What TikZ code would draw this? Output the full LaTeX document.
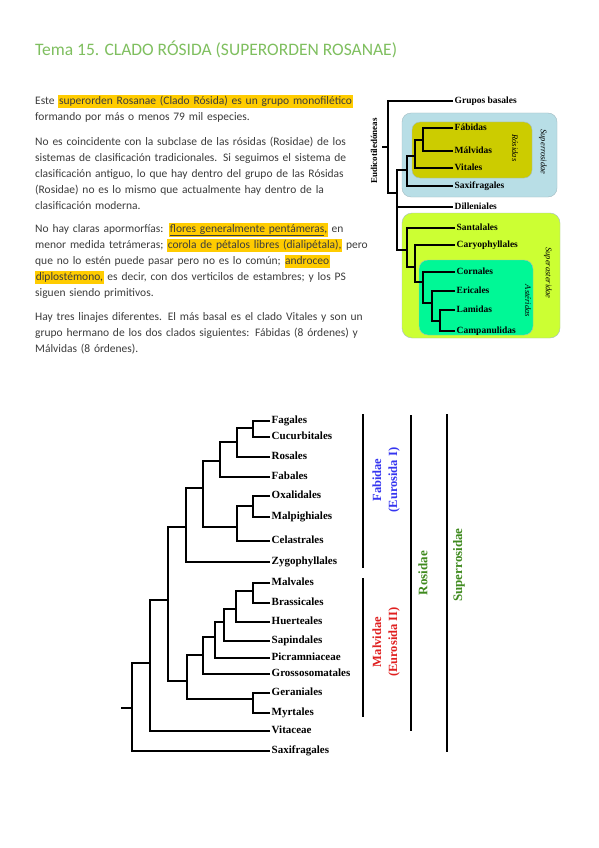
\documentclass[tikz,border=0pt]{standalone}
\usepackage{fontspec}
\setmainfont{Carlito}
\newfontfamily\treefont{Liberation Serif}
\usetikzlibrary{positioning}
\definecolor{rstitle}{HTML}{7FBF5F}
\definecolor{rsink}{HTML}{3C3C3C}
\definecolor{rsmark}{HTML}{FFCC00}
\definecolor{rsblue}{HTML}{B8DEE6}
\definecolor{rsedge}{HTML}{A2BBC2}
\definecolor{rsolive}{HTML}{CCCC00}
\definecolor{rslime}{HTML}{CCFF33}
\definecolor{rsmint}{HTML}{00F896}
\definecolor{rsfab}{HTML}{3535F0}
\definecolor{rsmal}{HTML}{E01F1F}
\definecolor{rsgreen}{HTML}{3F8A1E}
\newcommand{\hlt}[1]{{\setlength{\fboxsep}{0.6pt}\colorbox{rsmark}{\rule[-2.8pt]{0pt}{11.4pt}#1}}}
\newcommand{\jl}[1]{\noindent\makebox[323pt][s]{\rule{0pt}{11pt}#1}\par}
\newcommand{\el}[1]{\noindent\rule{0pt}{11pt}#1\par}

\begin{document}
\begin{tikzpicture}[x=1pt,y=-1pt,
    para/.style={anchor=north west,inner sep=0pt,text width=323pt,align=left,
      text=rsink,font=\fontsize{11.5}{16}\selectfont},
    leaf/.style={anchor=west,inner sep=1.5pt,text height=1.5ex,text depth=0.25ex,
      font=\treefont\bfseries\fontsize{11}{12}\selectfont},
    sleaf/.style={anchor=west,inner sep=1.5pt,text height=1.5ex,text depth=0.25ex,
      font=\treefont\bfseries\fontsize{9.5}{11}\selectfont},
    boxtag/.style={rotate=-90,inner sep=0pt,font=\treefont\itshape\fontsize{8.5}{10}\selectfont},
    cladetag/.style={rotate=90,inner sep=0pt,align=center,font=\treefont\bfseries\fontsize{12.5}{16}\selectfont},
    brlight/.style={line width=1.1pt},
    brheavy/.style={line width=2.2pt},
    sbr/.style={line width=1.3pt},
    bar/.style={line width=1.8pt}]
  \fill[white] (0,0) rectangle (599,848);
  \useasboundingbox (0,0) rectangle (599,848);

  % title and text
  \node[anchor=base west,inner sep=0pt,text=rstitle,font=\fontsize{17.5}{20}\selectfont] (title) at (35,56)
    {Tema 15. CLADO RÓSIDA (SUPERORDEN ROSANAE)};
  \node[para] (p1) at (35,93) {%
    \jl{Este \hlt{superorden Rosanae (Clado Rósida) es un grupo monofilético}}
    \el{formando por más o menos 79 mil especies.}};
  \node[para] (p2) at (35,134) {%
    \jl{No es coincidente con la subclase de las rósidas (Rosidae) de los}
    \jl{sistemas de clasificación tradicionales. Si seguimos el sistema de}
    \jl{clasificación antiguo, lo que hay dentro del grupo de las Rósidas}
    \jl{(Rosidae) no es lo mismo que actualmente hay dentro de la}
    \el{clasificación moderna.}};
  \node[para] (p3) at (35,221) {%
    \jl{No hay claras apormorfías: \hlt{\underline{flores generalmente pentámeras},} en}
    \jl{menor medida tetrámeras; \hlt{corola de pétalos libres (dialipétala),} pero}
    \jl{que no lo estén puede pasar pero no es lo común; \hlt{androceo}}
    \jl{\hlt{diplostémono,} es decir, con dos verticilos de estambres; y los PS}
    \el{siguen siendo primitivos.}};
  \node[para] (p4) at (35,309) {%
    \jl{Hay tres linajes diferentes. El más basal es el clado Vitales y son un}
    \jl{grupo hermano de los dos clados siguientes: Fábidas (8 órdenes) y}
    \el{Málvidas (8 órdenes).}};

  % small tree: boxes
  \draw[rsedge,fill=rsblue,rounded corners=9pt] (402,113) rectangle (557,197);
  \draw[rsedge,fill=rsolive,rounded corners=8pt] (412,122) rectangle (532,178);
  \draw[rsedge,fill=rslime,rounded corners=10pt] (402,213) rectangle (560,338);
  \draw[rsedge,fill=rsmint,rounded corners=9pt] (419,260) rectangle (533,335);
  \node[boxtag] (tsros) at (543,152) {Superrosidae};
  \node[boxtag] (tros) at (515,148) {Rósidas};
  \node[boxtag] (tsast) at (548,273) {Superasteridae};
  \node[boxtag] (tast) at (528,301) {Astéridas};
  \node[rotate=90,inner sep=0pt,font=\treefont\bfseries\fontsize{9}{11}\selectfont] (teud) at (374,151) {Eudicotiledóneas};

  % small tree: leaves
  \node[sleaf] (gb) at (453,101) {Grupos basales};
  \node[sleaf] (fabi) at (453,128) {Fábidas};
  \node[sleaf] (malv) at (453,151) {Málvidas};
  \node[sleaf] (vita) at (453,168) {Vitales};
  \node[sleaf] (saxs) at (453,186) {Saxifragales};
  \node[sleaf] (dill) at (453,207) {Dilleniales};
  \node[sleaf] (sant) at (455,228) {Santalales};
  \node[sleaf] (cary) at (455,245) {Caryophyllales};
  \node[sleaf] (corn) at (455,272) {Cornales};
  \node[sleaf] (eric) at (455,291) {Ericales};
  \node[sleaf] (lami) at (455,310) {Lamidas};
  \node[sleaf] (camp) at (455,331) {Campanulidas};

  % small tree: branch points
  \coordinate (sfm) at (423,140);
  \coordinate (srv) at (415,156);
  \coordinate (srs) at (407,170);
  \coordinate (slc) at (440,321);
  \coordinate (ser) at (432,303);
  \coordinate (sas) at (423,282);
  \coordinate (sca) at (415,267);
  \coordinate (ssa) at (407,250);
  \coordinate (score) at (397,193);
  \coordinate (sroot) at (388,147);
  \coordinate (stick) at (382,147);

  \draw[sbr] (fabi.west) -| (sfm);
  \draw[sbr] (malv.west) -| (sfm);
  \draw[sbr] (sfm) -| (srv);
  \draw[sbr] (vita.west) -| (srv);
  \draw[sbr] (srv) -| (srs);
  \draw[sbr] (saxs.west) -| (srs);
  \draw[sbr] (lami.west) -| (slc);
  \draw[sbr] (camp.west) -| (slc);
  \draw[sbr] (slc) -| (ser);
  \draw[sbr] (eric.west) -| (ser);
  \draw[sbr] (ser) -| (sas);
  \draw[sbr] (corn.west) -| (sas);
  \draw[sbr] (sas) -| (sca);
  \draw[sbr] (cary.west) -| (sca);
  \draw[sbr] (sca) -| (ssa);
  \draw[sbr] (sant.west) -| (ssa);
  \draw[sbr] (srs) -| (score);
  \draw[sbr] (dill.west) -| (score);
  \draw[sbr] (ssa) -| (score);
  \draw[sbr] (score) -| (sroot);
  \draw[sbr] (gb.west) -| (sroot);
  \draw[sbr] (sroot) -- (stick);

  % big tree: leaves
  \node[leaf] (fag) at (270,421) {Fagales};
  \node[leaf] (cuc) at (270,437) {Cucurbitales};
  \node[leaf] (rosa) at (270,457) {Rosales};
  \node[leaf] (faba) at (270,477) {Fabales};
  \node[leaf] (oxa) at (270,496) {Oxalidales};
  \node[leaf] (malp) at (270,517) {Malpighiales};
  \node[leaf] (cela) at (270,541) {Celastrales};
  \node[leaf] (zygo) at (270,562) {Zygophyllales};
  \node[leaf] (malva) at (270,583) {Malvales};
  \node[leaf] (bras) at (270,603) {Brassicales};
  \node[leaf] (huer) at (270,622) {Huerteales};
  \node[leaf] (sapi) at (270,641) {Sapindales};
  \node[leaf] (picr) at (270,658) {Picramniaceae};
  \node[leaf] (gros) at (270,674) {Grossosomatales};
  \node[leaf] (gera) at (270,693) {Geraniales};
  \node[leaf] (myrt) at (270,713) {Myrtales};
  \node[leaf] (vitc) at (270,731) {Vitaceae};
  \node[leaf] (saxb) at (270,751) {Saxifragales};

  % big tree: branch points
  \coordinate (fc) at (253,428);
  \coordinate (fcr) at (237,442);
  \coordinate (fcrf) at (220,461);
  \coordinate (om) at (253,506);
  \coordinate (omc) at (237,527);
  \coordinate (fab) at (203,488);
  \coordinate (fabz) at (186,527);
  \coordinate (mb) at (253,591);
  \coordinate (mbh) at (236,609);
  \coordinate (mbhs) at (224,622);
  \coordinate (mbhsp) at (215,637);
  \coordinate (mcore) at (203,655);
  \coordinate (gm) at (253,699);
  \coordinate (mal) at (187,681);
  \coordinate (eud) at (168,600);
  \coordinate (ros) at (150,663);
  \coordinate (root) at (132,708);
  \coordinate (tick) at (121,708);

  \draw[brheavy] (fag.west) -| (fc);
  \draw[brheavy] (cuc.west) -| (fc);
  \draw[brheavy] (fc) -| (fcr);
  \draw[brheavy] (rosa.west) -| (fcr);
  \draw[brlight] (fcr) -| (fcrf);
  \draw[brheavy] (faba.west) -| (fcrf);
  \draw[brheavy] (oxa.west) -| (om);
  \draw[brheavy] (malp.west) -| (om);
  \draw[brheavy] (om) -| (omc);
  \draw[brheavy] (cela.west) -| (omc);
  \draw[brlight] (fcrf) -| (fab);
  \draw[brheavy] (omc) -| (fab);
  \draw[brlight] (fab) -| (fabz);
  \draw[brheavy] (zygo.west) -| (fabz);
  \draw[brheavy] (malva.west) -| (mb);
  \draw[brheavy] (bras.west) -| (mb);
  \draw[brlight] (mb) -| (mbh);
  \draw[brheavy] (huer.west) -| (mbh);
  \draw[brheavy] (mbh) -| (mbhs);
  \draw[brheavy] (sapi.west) -| (mbhs);
  \draw[brlight] (mbhs) -| (mbhsp);
  \draw[brlight] (picr.west) -| (mbhsp);
  \draw[brlight] (mbhsp) -| (mcore);
  \draw[brlight] (gros.west) -| (mcore);
  \draw[brlight] (gera.west) -| (gm);
  \draw[brheavy] (myrt.west) -| (gm);
  \draw[brheavy] (mcore) -| (mal);
  \draw[brlight] (gm) -| (mal);
  \draw[brlight] (fabz) -| (eud);
  \draw[brlight] (mal) -| (eud);
  \draw[brlight] (eud) -| (ros);
  \draw[brheavy] (vitc.west) -| (ros);
  \draw[brlight] (ros) -| (root);
  \draw[brheavy] (saxb.west) -| (root);
  \draw[brheavy] (root) -- (tick);

  % clade bars
  \draw[line width=1.4pt] (363,414) -- (363,568);
  \draw[bar] (363,578) -- (363,717);
  \draw[bar] (411,415) -- (411,731);
  \draw[bar] (447,414) -- (447,752);
  \node[cladetag,text=rsfab] (tfab) at (386,480) {Fabidae\\(Eurosida I)};
  \node[cladetag,text=rsmal] (tmal) at (386,642) {Malvidae\\(Eurosida II)};
  \node[cladetag,text=rsgreen,font=\treefont\bfseries\fontsize{13}{16}\selectfont] (trosi) at (423,573) {Rosidae};
  \node[cladetag,text=rsgreen,font=\treefont\bfseries\fontsize{13}{16}\selectfont] (tsupr) at (459,565) {Superrosidae};
\end{tikzpicture}
\end{document}
